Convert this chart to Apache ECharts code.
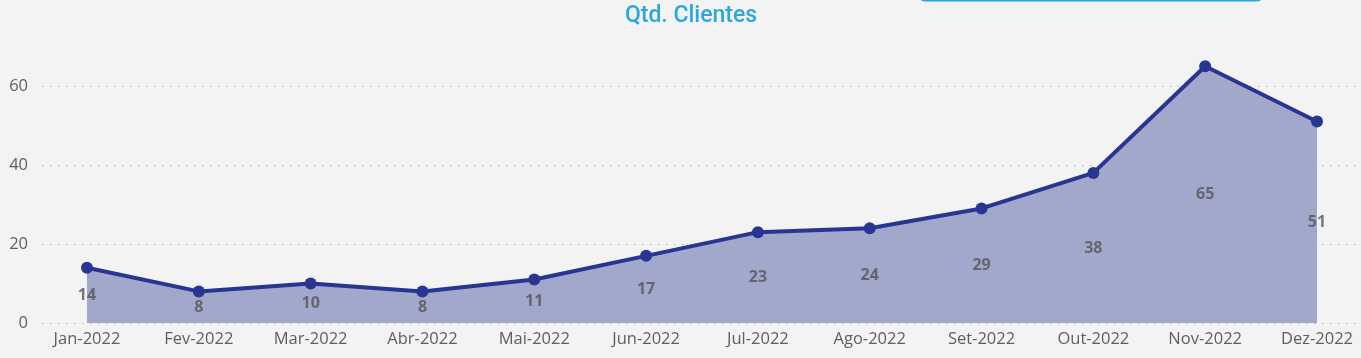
<!DOCTYPE html>
<html><head><meta charset="utf-8">
<script src="https://cdn.jsdelivr.net/npm/echarts@6/dist/echarts.min.js"></script>
<style>html,body{margin:0;padding:0;background:#f3f3f3;}#c{width:1361px;height:358px;}</style>
</head><body><div id="c"></div>
<script>
const categories = ['Jan-2022','Fev-2022','Mar-2022','Abr-2022','Mai-2022','Jun-2022','Jul-2022','Ago-2022','Set-2022','Out-2022','Nov-2022','Dez-2022'];
const clientes = [14, 8, 10, 8, 11, 17, 23, 24, 29, 38, 65, 51];
const yTicks = [0, 20, 40, 60];

(function () {
const chart = echarts.init(document.getElementById('c'), null, {renderer: 'canvas'});
const gTop = 46.5, gBottom = 35;
const labelData = clientes.map((v, i) => [i, v / 2, v]);
chart.setOption({
  backgroundColor: '#f3f3f3',
  animation: false,
  title: {
    text: 'Qtd. Clientes', left: 686, top: 0, textAlign: 'center',
    textStyle: {color: '#29a8e0', fontFamily: 'Roboto', fontWeight: 500, fontSize: 23}
  },
  graphic: [{
    type: 'rect', shape: {x: 918, y: -12, width: 346, height: 13.5, r: 8},
    style: {fill: '#29a8e0'}
  }],
  grid: [
    {left: 87, right: 44, top: gTop, bottom: gBottom},
    {left: 42, right: 0, top: 86, bottom: gBottom}
  ],
  xAxis: [
    {type: 'category', gridIndex: 0, data: categories, boundaryGap: false,
     axisLine: {show: false}, axisTick: {show: false},
     axisLabel: {color: '#605e5c', fontFamily: 'Open Sans', fontSize: 16.5, margin: 8, interval: 0}},
    {type: 'value', gridIndex: 1, show: false, min: 0, max: 1}
  ],
  yAxis: [
    {type: 'value', gridIndex: 0, min: 0, max: 70, show: false, splitLine: {show: false}},
    {type: 'value', gridIndex: 1, min: 0, max: 60, interval: 20, z: 2,
     axisLine: {show: false}, axisTick: {show: false},
     axisLabel: {color: '#605e5c', fontFamily: 'Open Sans', fontSize: 16.5, margin: 14,
       formatter: v => yTicks.includes(v) ? String(v) : ''},
     splitLine: {show: true, lineStyle: {color: '#b0b0b0', type: [1.5, 6.5], width: 1}}}
  ],
  series: [
    {type: 'line', xAxisIndex: 0, yAxisIndex: 0, data: clientes,
     symbol: 'none', lineStyle: {width: 0},
     areaStyle: {color: '#a2a8cc', opacity: 1},
     z: 1},
    {type: 'line', xAxisIndex: 0, yAxisIndex: 0, data: clientes,
     symbol: 'circle', symbolSize: 12,
     lineStyle: {color: '#283593', width: 4},
     itemStyle: {color: '#283593'},
     z: 3},
    {type: 'scatter', xAxisIndex: 0, yAxisIndex: 0, data: labelData,
     symbolSize: 0, silent: true,
     label: {show: true, position: 'inside', formatter: p => String(p.data[2]),
       color: '#555555', fontFamily: 'Open Sans', fontWeight: 'bold', fontSize: 16},
     z: 4}
  ]
});
})();
</script></body></html>
